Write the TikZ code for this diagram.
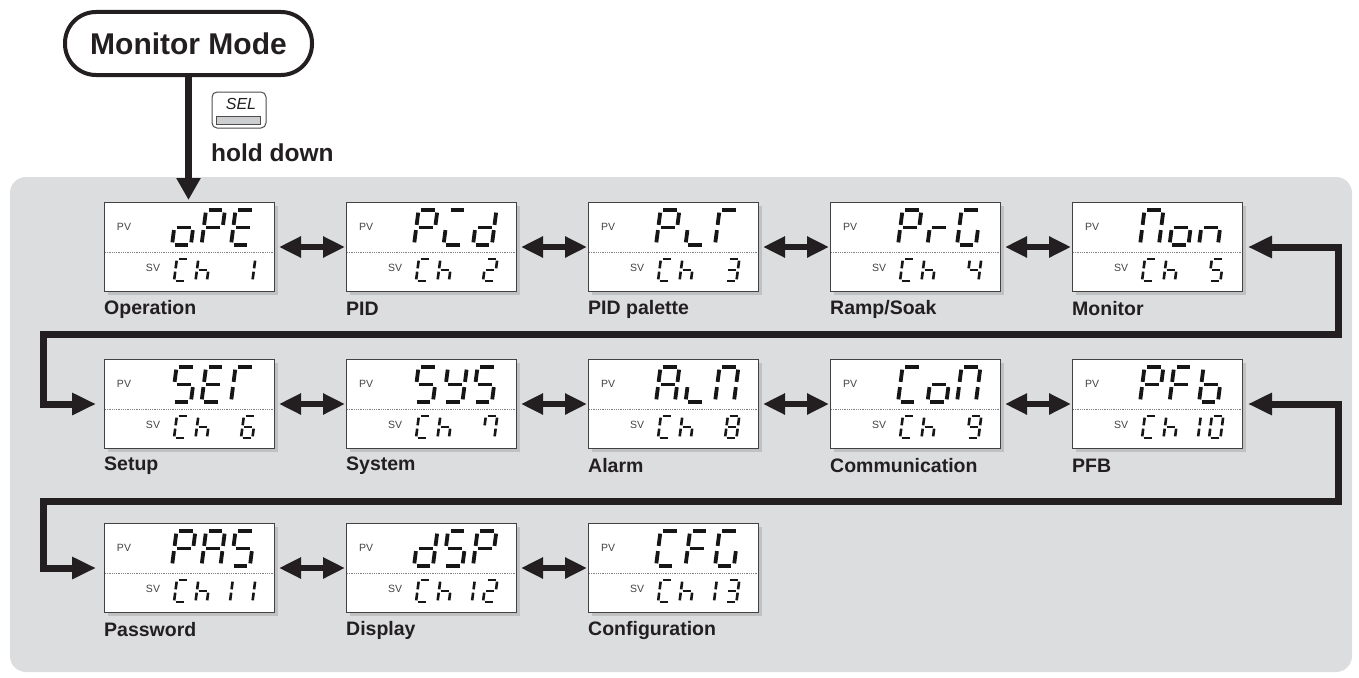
\documentclass[tikz,border=0pt]{standalone}
\usepackage{fontspec}
\setmainfont{Liberation Sans}
\usetikzlibrary{arrows.meta,calc,shadows}
\definecolor{bggray}{RGB}{220,221,223}
\definecolor{shgray}{RGB}{192,193,195}
\definecolor{ink}{RGB}{35,31,32}
\definecolor{segcol}{RGB}{22,22,22}
\definecolor{keybar}{RGB}{205,206,208}
\tikzset{
 dispbox/.style={draw=ink!85, line width=1pt, fill=white, minimum width=170pt, minimum height=89pt, inner sep=0pt, anchor=north west,
   drop shadow={shadow xshift=3pt, shadow yshift=-3pt, fill=shgray, opacity=1}},
 lbl/.style={anchor=west, inner sep=0pt, text=ink, font=\fontsize{19.5}{20}\selectfont\bfseries},
 tag/.style={inner sep=0pt, text=ink!85, font=\fontsize{10.5}{11}\selectfont},
 dotline/.style={draw=black!50, line width=0.7pt, dash pattern=on 0.7pt off 1.1pt},
 dbl/.style={draw=ink, line width=6.5pt, {Triangle[length=22pt,width=20pt]}-{Triangle[length=22pt,width=20pt]}, shorten <=4pt, shorten >=1pt},
 conn/.style={draw=ink, line width=7pt, {Triangle[length=24pt,width=21pt]}-{Triangle[length=24pt,width=21pt]}, shorten <=5pt, shorten >=8pt},
 mainarr/.style={draw=ink, line width=7pt, -{Triangle[length=22pt,width=23pt]}, shorten >=2pt},
 modebox/.style={draw=ink, line width=4pt, rounded corners=31pt, minimum width=247pt, minimum height=63pt, inner sep=0pt, font=\fontsize{30}{30}\selectfont\bfseries, text=ink},
 keybox/.style={draw=ink!80, line width=1pt, fill=white, rounded corners=5pt, minimum width=54pt, minimum height=36pt, inner sep=0pt},
 keybarstyle/.style={draw=ink!80, line width=0.8pt, fill=keybar, minimum width=44pt, minimum height=8pt, inner sep=0pt},
 segment/.style={draw=segcol, line cap=butt}
}
% segment paths (normalized: height 1, width \sw)
\def\gp{0.075}
\def\SgPa{(\gp,1)--(\sw-\gp,1)}
\def\SgPb{(\sw,1-\gp)--(\sw,0.5+\gp)}
\def\SgPc{(\sw,0.5-\gp)--(\sw,\gp)}
\def\SgPd{(\gp,0)--(\sw-\gp,0)}
\def\SgPe{(0,\gp)--(0,0.5-\gp)}
\def\SgPf{(0,0.5+\gp)--(0,1-\gp)}
\def\SgPg{(\gp,0.5)--(\sw-\gp,0.5)}
% glyphs
\def\GlO{c,d,e,g}
\def\GlP{a,b,e,f,g}
\def\GlE{a,d,e,f,g}
\def\GlI{a,d,e}
\def\Gld{b,c,d,e,g}
\def\GlL{d,e}
\def\GlT{a,e,f}
\def\Glr{e,g}
\def\GlG{a,c,d,e,f}
\def\GlM{a,b,c,e,f}
\def\Gln{c,e,g}
\def\GlS{a,c,d,f,g}
\def\GlY{b,c,d,f,g}
\def\GlA{a,b,c,e,f,g}
\def\GlC{a,d,e,f}
\def\GlF{a,e,f,g}
\def\Glb{c,d,e,f,g}
\def\Glh{c,e,f,g}
\def\GlZero{a,b,c,d,e,f}
\def\GlOne{b,c}
\def\GlTwo{a,b,d,e,g}
\def\GlThree{a,b,c,d,g}
\def\GlFour{b,c,f,g}
\def\GlFive{a,c,d,f,g}
\def\GlSix{a,c,d,e,f,g}
\def\GlSeven{a,b,c,f}
\def\GlEight{a,b,c,d,e,f,g}
\def\GlNine{a,b,c,d,f,g}
\newcommand\sdigit[6]{%
  \begin{scope}[shift={(#1,#2)},x=#3pt,y=#3pt,xslant=0.13,line width=#4]
    \def\sw{#5}%
    \foreach \s in #6 {\draw[segment] \csname SgP\s\endcsname;}
  \end{scope}}
\newcommand\pv[4]{\sdigit{#1+68+29.5*#3}{#2+43}{35}{3.8pt}{0.54}{#4}}
\newcommand\sv[4]{\sdigit{#1+#3}{#2+79}{22}{2.6pt}{0.52}{#4}}
\newcommand\chbox[4]{%
  \node[dispbox] (#1) at (#2,#3) {};
  \node[tag] at (#2+20,#3+25) {PV};
  \node[tag] at (#2+49,#3+66) {SV};
  \draw[dotline] ($(#1.north west)+(1,50)$) -- ($(#1.north east)+(-1,50)$);
  \node[lbl] at (#2,#3+107) {#4};
  \sv{#2}{#3}{70}{\GlC}
  \sv{#2}{#3}{91.5}{\Glh}
}
\begin{document}
\begin{tikzpicture}[x=1pt,y=-1pt]
\useasboundingbox (0,0) rectangle (1359,677);
\fill[bggray, rounded corners=16pt] (10,177) rectangle (1352,672);

% Monitor mode and key
\node[modebox] (mm) at (188.5,43.5) {Monitor Mode};
\node[keybox] (key) at (239,110) {};
\node[inner sep=0pt, text=ink, font=\fontsize{16}{16}\selectfont\itshape] (keytxt) at (241,104) {SEL};
\node[keybarstyle] (keybar) at (238,120) {};
\node[anchor=west, inner sep=0pt, text=ink, font=\fontsize{24.5}{25}\selectfont\bfseries] (hold) at (211,153) {hold down};

% row 1
\chbox{b1}{104}{202}{Operation}
\pv{104}{202}{0}{\GlO}\pv{104}{202}{1}{\GlP}\pv{104}{202}{2}{\GlE}
\sv{104}{202}{137}{\GlOne}
\chbox{b2}{346}{202}{PID}
\pv{346}{202}{0}{\GlP}\pv{346}{202}{1}{\GlI}\pv{346}{202}{2}{\Gld}
\sv{346}{202}{137}{\GlTwo}
\chbox{b3}{588}{202}{PID palette}
\pv{588}{202}{0}{\GlP}\pv{588}{202}{1}{\GlL}\pv{588}{202}{2}{\GlT}
\sv{588}{202}{137}{\GlThree}
\chbox{b4}{830}{202}{Ramp/Soak}
\pv{830}{202}{0}{\GlP}\pv{830}{202}{1}{\Glr}\pv{830}{202}{2}{\GlG}
\sv{830}{202}{137}{\GlFour}
\chbox{b5}{1072}{202}{Monitor}
\pv{1072}{202}{0}{\GlM}\pv{1072}{202}{1}{\GlO}\pv{1072}{202}{2}{\Gln}
\sv{1072}{202}{137}{\GlFive}

% row 2
\chbox{b6}{104}{359}{Setup}
\pv{104}{359}{0}{\GlS}\pv{104}{359}{1}{\GlE}\pv{104}{359}{2}{\GlT}
\sv{104}{359}{137}{\GlSix}
\chbox{b7}{346}{359}{System}
\pv{346}{359}{0}{\GlS}\pv{346}{359}{1}{\GlY}\pv{346}{359}{2}{\GlS}
\sv{346}{359}{137}{\GlSeven}
\chbox{b8}{588}{359}{Alarm}
\pv{588}{359}{0}{\GlA}\pv{588}{359}{1}{\GlL}\pv{588}{359}{2}{\GlM}
\sv{588}{359}{137}{\GlEight}
\chbox{b9}{830}{359}{Communication}
\pv{830}{359}{0}{\GlC}\pv{830}{359}{1}{\GlO}\pv{830}{359}{2}{\GlM}
\sv{830}{359}{137}{\GlNine}
\chbox{b10}{1072}{359}{PFB}
\pv{1072}{359}{0}{\GlP}\pv{1072}{359}{1}{\GlF}\pv{1072}{359}{2}{\Glb}
\sv{1072}{359}{114.5}{\GlOne}\sv{1072}{359}{137}{\GlZero}

% row 3
\chbox{b11}{104}{523}{Password}
\pv{104}{523}{0}{\GlP}\pv{104}{523}{1}{\GlA}\pv{104}{523}{2}{\GlS}
\sv{104}{523}{114.5}{\GlOne}\sv{104}{523}{137}{\GlOne}
\chbox{b12}{346}{523}{Display}
\pv{346}{523}{0}{\Gld}\pv{346}{523}{1}{\GlS}\pv{346}{523}{2}{\GlP}
\sv{346}{523}{114.5}{\GlOne}\sv{346}{523}{137}{\GlTwo}
\chbox{b13}{588}{523}{Configuration}
\pv{588}{523}{0}{\GlC}\pv{588}{523}{1}{\GlF}\pv{588}{523}{2}{\GlG}
\sv{588}{523}{114.5}{\GlOne}\sv{588}{523}{137}{\GlThree}

% connectors
\draw[mainarr] (mm.south) -- (mm.south |- b1.north);
\draw[dbl] (b1.east) -- (b2.west);
\draw[dbl] (b2.east) -- (b3.west);
\draw[dbl] (b3.east) -- (b4.west);
\draw[dbl] (b4.east) -- (b5.west);
\draw[dbl] (b6.east) -- (b7.west);
\draw[dbl] (b7.east) -- (b8.west);
\draw[dbl] (b8.east) -- (b9.west);
\draw[dbl] (b9.east) -- (b10.west);
\draw[dbl] (b11.east) -- (b12.west);
\draw[dbl] (b12.east) -- (b13.west);
\coordinate (r1) at (1338,334);
\coordinate (l1) at (43,334);
\coordinate (r2) at (1338,501);
\coordinate (l2) at (43,501);
\draw[conn] (b5.east) -| (r1) -- (l1) |- (b6.west);
\draw[conn] (b10.east) -| (r2) -- (l2) |- (b11.west);
\end{tikzpicture}
\end{document}
